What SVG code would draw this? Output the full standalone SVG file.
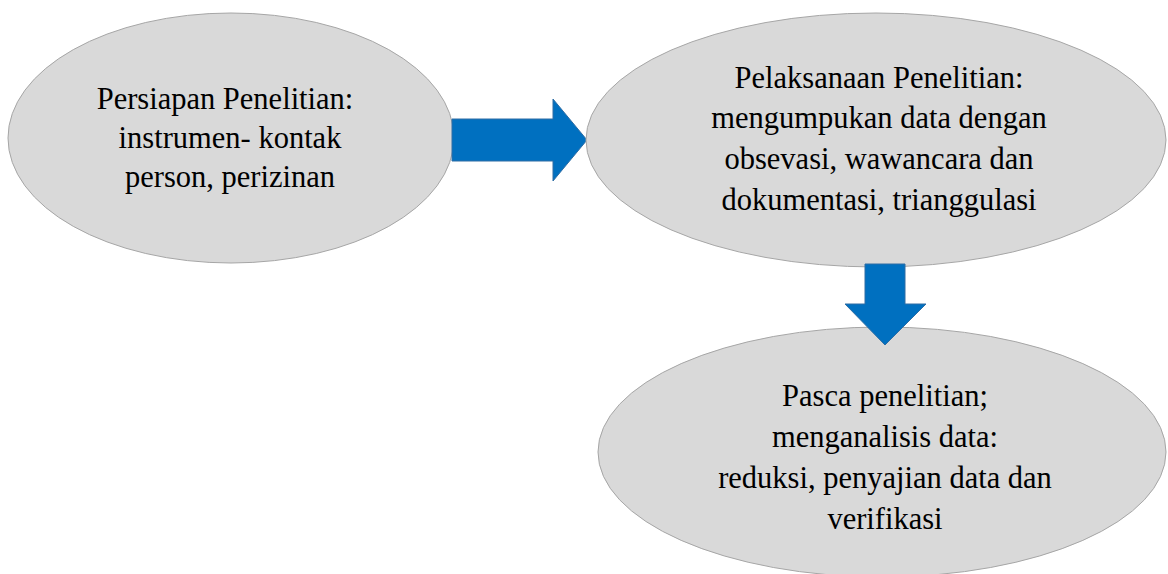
<svg xmlns="http://www.w3.org/2000/svg" width="1168" height="574" viewBox="0 0 1168 574">
<style>
.node{fill:#D9D9D9;stroke:#A6A6A6;stroke-width:1}
.lbl{font-family:"Liberation Serif","Times New Roman",serif;font-size:30.5px;fill:#000;text-anchor:middle}
.arr{fill:#0070C0;stroke:#2E6DA4;stroke-width:1}
</style>
<rect width="1168" height="574" fill="#fff"/>
<g id="n1">
<ellipse class="node" cx="231" cy="138" rx="223" ry="125"/>
<text class="lbl" x="225" y="109">Persiapan Penelitian:</text>
<text class="lbl" x="230" y="148">instrumen- kontak</text>
<text class="lbl" x="230" y="187">person, perizinan</text>
</g>
<g id="connectors">
<polygon id="c1" class="arr" points="452,119 553,119 553,99 587,140 553,181 553,161 452,161"/>
</g>
<g id="n2">
<ellipse class="node" cx="876" cy="140" rx="290" ry="127"/>
<text class="lbl" x="879" y="88">Pelaksanaan Penelitian:</text>
<text class="lbl" x="879" y="128">mengumpukan data dengan</text>
<text class="lbl" x="879" y="169">obsevasi, wawancara dan</text>
<text class="lbl" x="879" y="210">dokumentasi, trianggulasi</text>
</g>
<g id="n3">
<ellipse class="node" cx="882" cy="452" rx="284" ry="125"/>
<text class="lbl" x="885" y="406">Pasca penelitian;</text>
<text class="lbl" x="885" y="447">menganalisis data:</text>
<text class="lbl" x="885" y="488">reduksi, penyajian data dan</text>
<text class="lbl" x="885" y="529">verifikasi</text>
</g>
<g id="connectors2">
<polygon id="c2" class="arr" points="865,264 905,264 905,304 926,304 885,345 845,304 865,304"/>
</g>
</svg>
